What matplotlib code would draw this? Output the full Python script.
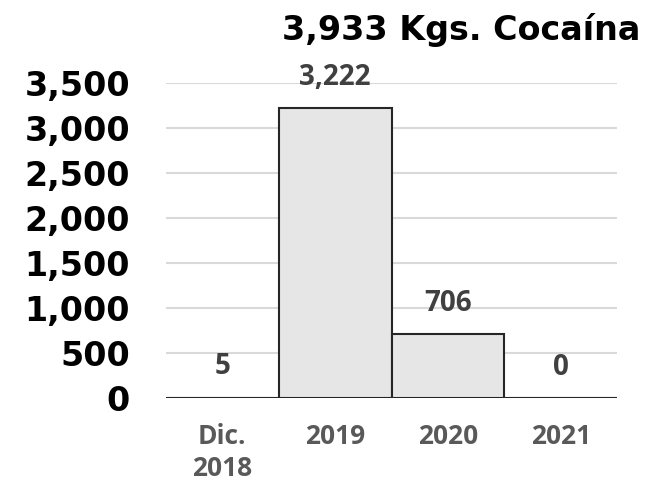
import matplotlib.pyplot as plt

# Data
categories = ['Dic.\n2018', '2019', '2020', '2021']
values = [5, 3222, 706, 0]
labels = ['5', '3,222', '706', '0']
yticks = [0, 500, 1000, 1500, 2000, 2500, 3000, 3500]

fig = plt.figure(figsize=(6.62, 4.91), dpi=100)
ax = fig.add_axes([166/662, 1 - 398/491, (617 - 166)/662, (398 - 83)/491])

x = range(len(categories))
ax.bar(x, values, width=1.0, color='#E7E6E6', edgecolor='#262626', linewidth=1.5, zorder=3)

for i, (v, lab) in enumerate(zip(values, labels)):
    ax.annotate(lab, (i, v), xytext=(0, 22), textcoords='offset points',
                ha='center', va='center', fontsize=20, fontweight='bold',
                family='Open Sans', color='#404040')

ax.set_xlim(-0.5, 3.5)
ax.set_ylim(0, 3500)
ax.set_yticks(yticks)
ax.set_yticklabels([f'{t:,}' for t in yticks], fontsize=24, fontweight='bold',
                   family='DejaVu Sans', color='black')
ax.set_xticks(list(x))
ax.set_xticklabels(categories, fontsize=19, fontweight='bold', family='Open Sans',
                   color='#595959', linespacing=1.25)
ax.tick_params(axis='y', length=0, pad=26)
ax.tick_params(axis='x', length=0, pad=18)

ax.grid(axis='y', color='#D9D9D9', linewidth=1.5, zorder=0)
for s in ax.spines.values():
    s.set_visible(False)

fig.text(640/662, 1 - 30/491, '3,933 Kgs. Cocaína', ha='right', va='center',
         fontsize=24, fontweight='bold', family='DejaVu Sans', color='black')

fig.savefig('out.png', dpi=100)
